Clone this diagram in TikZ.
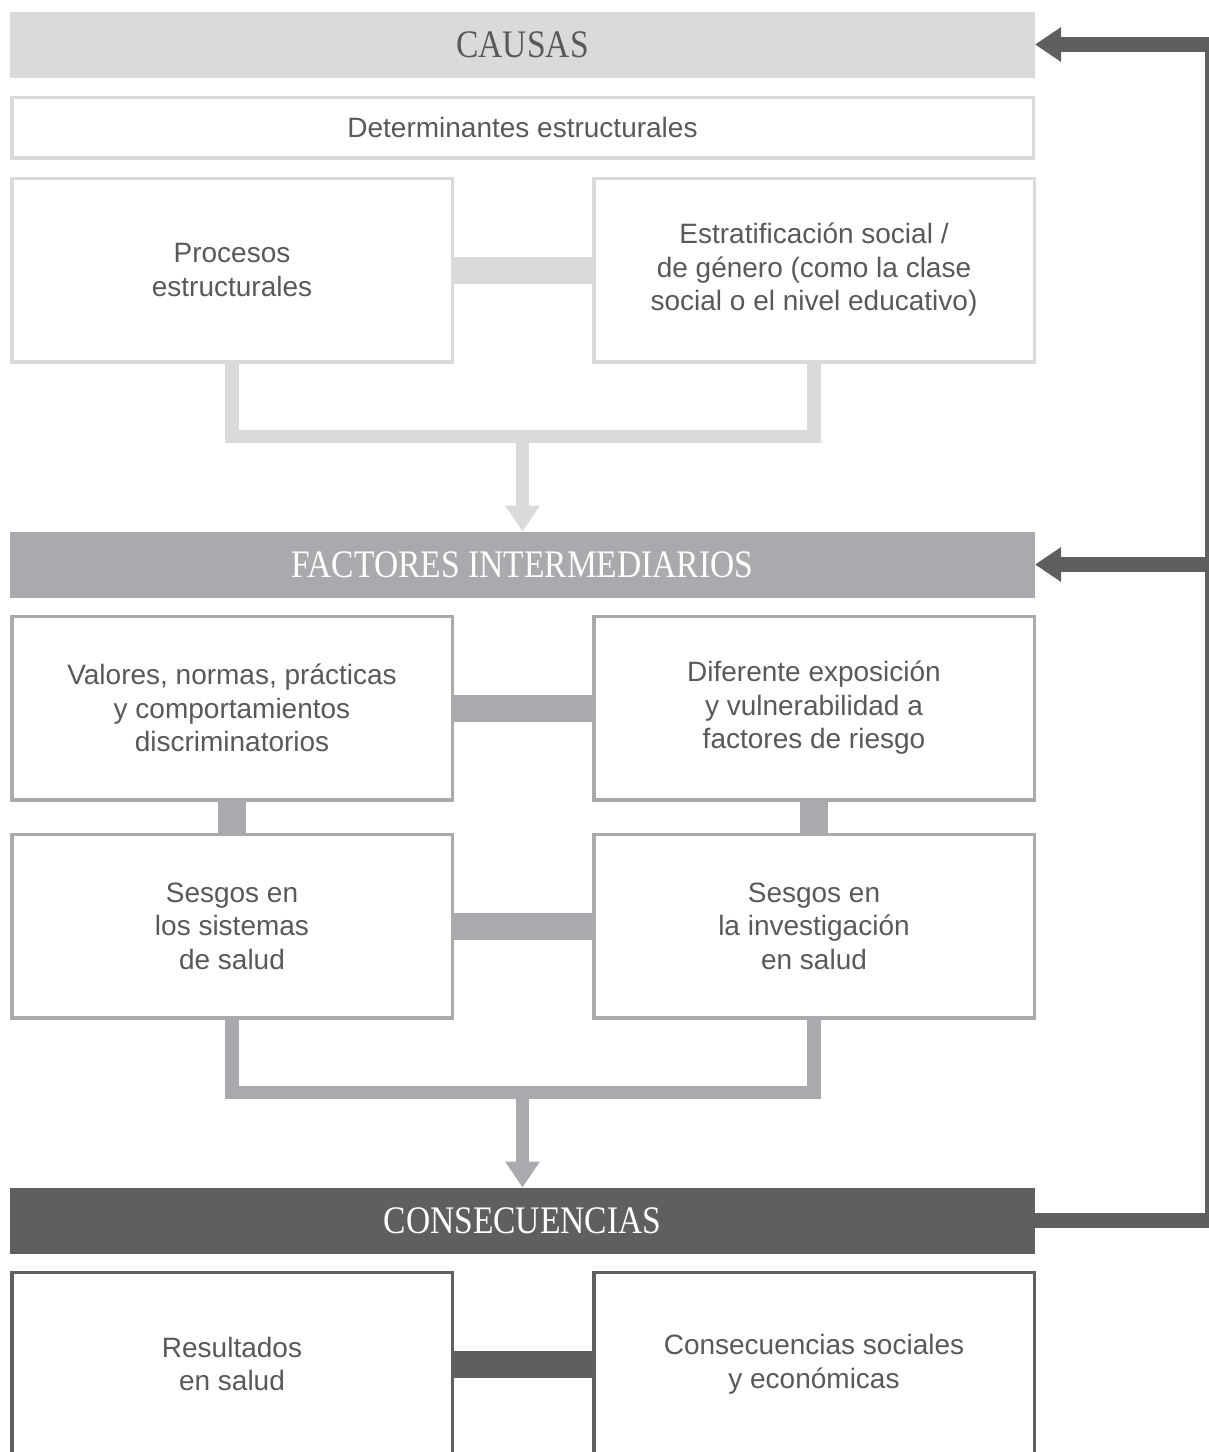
\documentclass[tikz,border=0pt]{standalone}
\usepackage{fontspec}
\newfontfamily\headfont{Liberation Serif}
\newfontfamily\bodyfont{Liberation Sans}
\usepackage{tikz}
\usetikzlibrary{arrows.meta,positioning}

\definecolor{lgray}{HTML}{D9DADB}
\definecolor{mgray}{HTML}{A9AAAD}
\definecolor{dgray}{HTML}{5F5F61}
\definecolor{txtgray}{HTML}{58595B}

\newcommand{\hdtext}[1]{\raisebox{-2.5pt}{\scalebox{0.86}[1]{#1}}}

\begin{document}
\begin{tikzpicture}[x=1pt, y=1pt,
  band/.style={minimum width=1025pt, minimum height=66pt, inner sep=0pt, outer sep=0pt, font=\headfont\fontsize{39pt}{41pt}\selectfont},
  box/.style={draw, line width=3.5pt, fill=white, minimum width=440.5pt, minimum height=183.5pt, align=center, text=txtgray, font=\bodyfont\fontsize{28pt}{33.5pt}\selectfont},
  link/.style={line width=27pt},
  brk/.style={line width=13.5pt, line join=miter},
  fb/.style={draw=dgray, line width=14.5pt, line join=miter},
  tip/.style={-{Triangle[width=33pt,length=26pt]}}
]
\useasboundingbox (0,0) rectangle (1209,-1452);
\clip (0,0) rectangle (1209,-1452);

% Nodes
\node[band, fill=lgray, text=txtgray] (causas) at (522.5,-44.5) {\hdtext{CAUSAS}};
\node[box, draw=lgray, minimum width=1021.5pt, minimum height=60.5pt, below right=18pt and 0pt of causas.south west] (det) {Determinantes estructurales};
\node[box, draw=lgray, below right=17pt and 0pt of det.south west] (proc) {Procesos\\estructurales};
\node[box, draw=lgray, right=138pt of proc] (estr) {Estratificación social /\\de género (como la clase\\social o el nivel educativo)};

\node[band, fill=mgray, text=white, below right=168pt and 0pt of proc.south west] (fac) {\hdtext{FACTORES INTERMEDIARIOS}};
\node[box, draw=mgray, below right=17pt and 0pt of fac.south west] (val) {Valores, normas, prácticas\\y comportamientos\\discriminatorios};
\node[box, draw=mgray, right=138pt of val] (expo) {Diferente exposición\\y vulnerabilidad a\\factores de riesgo};
\node[box, draw=mgray, below=31pt of val] (sis) {Sesgos en\\los sistemas\\de salud};
\node[box, draw=mgray, below=31pt of expo] (inv) {Sesgos en\\la investigación\\en salud};

\node[band, fill=dgray, text=white, below right=168pt and 0pt of sis.south west] (cons) {\hdtext{CONSECUENCIAS}};
\node[box, draw=dgray, below right=17pt and 0pt of cons.south west] (res) {Resultados\\en salud};
\node[box, draw=dgray, right=138pt of res] (eco) {Consecuencias sociales\\y económicas};

% Connections
\draw[link, draw=lgray] (proc) -- (estr);
\path (proc.south) ++(0,-73) coordinate (jc);
\draw[brk, draw=lgray] (proc.south) -- (jc) -| (estr.south);
\draw[brk, draw=lgray, tip] (jc -| fac.north) -- (fac.north);

\draw[link, draw=mgray] (val) -- (expo);
\draw[link, draw=mgray, line width=28pt] (val) -- (sis);
\draw[link, draw=mgray, line width=28pt] (expo) -- (inv);
\draw[link, draw=mgray] (sis) -- (inv);
\path (sis.south) ++(0,-73) coordinate (jm);
\draw[brk, draw=mgray] (sis.south) -- (jm) -| (inv.south);
\draw[brk, draw=mgray, tip] (jm -| cons.north) -- (cons.north);

\draw[link, draw=dgray] (res) -- (eco);

% Feedback to the top bands
\coordinate (fbx) at (1212,0);
\draw[fb, tip] (cons.east) -- (cons.east -| fbx) -- (causas.east -| fbx) -- (causas.east);
\draw[fb, tip] (fac.east -| fbx) -- (fac.east);

\end{tikzpicture}
\end{document}
